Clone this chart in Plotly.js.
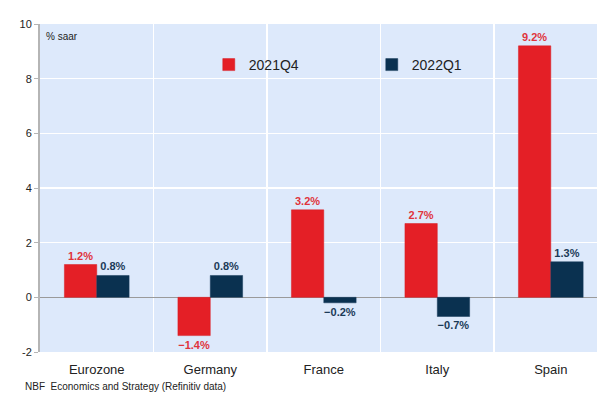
<!DOCTYPE html>
<html>
<head>
<meta charset="utf-8">
<script src="https://cdn.plot.ly/plotly-3.0.1.min.js"></script>
<style>html,body{margin:0;padding:0;background:#fff;}#chart{width:597px;height:396px;}</style>
</head>
<body>
<div id="chart"></div>
<script>
const categories = ["Eurozone", "Germany", "France", "Italy", "Spain"];
const q4_2021 = [1.2, -1.4, 3.2, 2.7, 9.2];
const q1_2022 = [0.8, 0.8, -0.2, -0.7, 1.3];
const seriesNames = ["2021Q4", "2022Q1"];
const yTickVals = [-2, 0, 2, 4, 6, 8, 10];
const yTickText = ["-2", "0", "2", "4", "6", "8", "10"];

const fmt = v => (v < 0 ? "\u2212" + Math.abs(v).toFixed(1) : v.toFixed(1)) + "%";

const red = "#e41f26";
const navy = "#0a3150";

const traces = [
  {
    type: "bar", name: seriesNames[0], x: categories, y: q4_2021,
    marker: {color: red, line: {color: "#d81c22", width: 0.5}},
    text: q4_2021.map(fmt), textposition: "outside", cliponaxis: false,
    textfont: {family: "Liberation Sans, Arial, sans-serif", size: 11, color: "#e0343b", weight: "bold"},
    hoverinfo: "skip"
  },
  {
    type: "bar", name: seriesNames[1], x: categories, y: q1_2022,
    marker: {color: navy, line: {color: "#173b5a", width: 0.5}},
    text: q1_2022.map(fmt), textposition: "outside", cliponaxis: false,
    textfont: {family: "Liberation Sans, Arial, sans-serif", size: 11, color: "#1b3a57", weight: "bold"},
    hoverinfo: "skip"
  }
];

const layout = {
  width: 597, height: 396,
  margin: {l: 40, r: 0, t: 24, b: 44},
  paper_bgcolor: "#ffffff",
  plot_bgcolor: "#dde9fb",
  font: {family: "Liberation Sans, Arial, sans-serif", color: "#222", size: 11},
  barmode: "group",
  bargap: 0.43,
  bargroupgap: 0,
  showlegend: true,
  legend: {
    orientation: "h", x: 0.303, y: 0.875, xanchor: "left", yanchor: "middle",
    bgcolor: "rgba(0,0,0,0)", font: {size: 14, color: "#222"},
    entrywidth: 118, entrywidthmode: "pixels", itemwidth: 30
  },
  xaxis: {
    type: "category", range: [-0.5, 4.407], tickson: "boundaries",
    showgrid: true, gridcolor: "#ffffff", gridwidth: 1.2,
    ticks: "", showline: false, zeroline: false,
    tickfont: {size: 13, color: "#222"}, ticklabelstandoff: 8
  },
  yaxis: {
    range: [-2, 10], tickvals: yTickVals, ticktext: yTickText,
    showgrid: true, gridcolor: "#ffffff", gridwidth: 1.2,
    zeroline: true, zerolinecolor: "#9a9a9a", zerolinewidth: 1.5,
    showline: true, linecolor: "#b5b5b5", linewidth: 2,
    ticks: "outside", ticklen: 4, tickcolor: "#b5b5b5",
    tickfont: {size: 11, color: "#222"}
  },
  shapes: [
    {type: "line", xref: "x", yref: "paper", x0: 0.5, x1: 0.5, y0: 0, y1: 1,
     line: {color: "#3a73b8", width: 1, dash: "dash"}, layer: "between"}
  ],
  annotations: [
    {text: "% saar", xref: "paper", yref: "paper", x: 0.008, y: 0.985, xanchor: "left", yanchor: "top",
     showarrow: false, font: {size: 10, color: "#222"}},
    {text: "NBF  Economics and Strategy (Refinitiv data)", xref: "paper", yref: "paper",
     x: -0.031, y: -0.104, xanchor: "left", yanchor: "middle", showarrow: false,
     font: {size: 10, color: "#222"}}
  ]
};

Plotly.newPlot("chart", traces, layout, {staticPlot: true, displayModeBar: false});
</script>
</body>
</html>
